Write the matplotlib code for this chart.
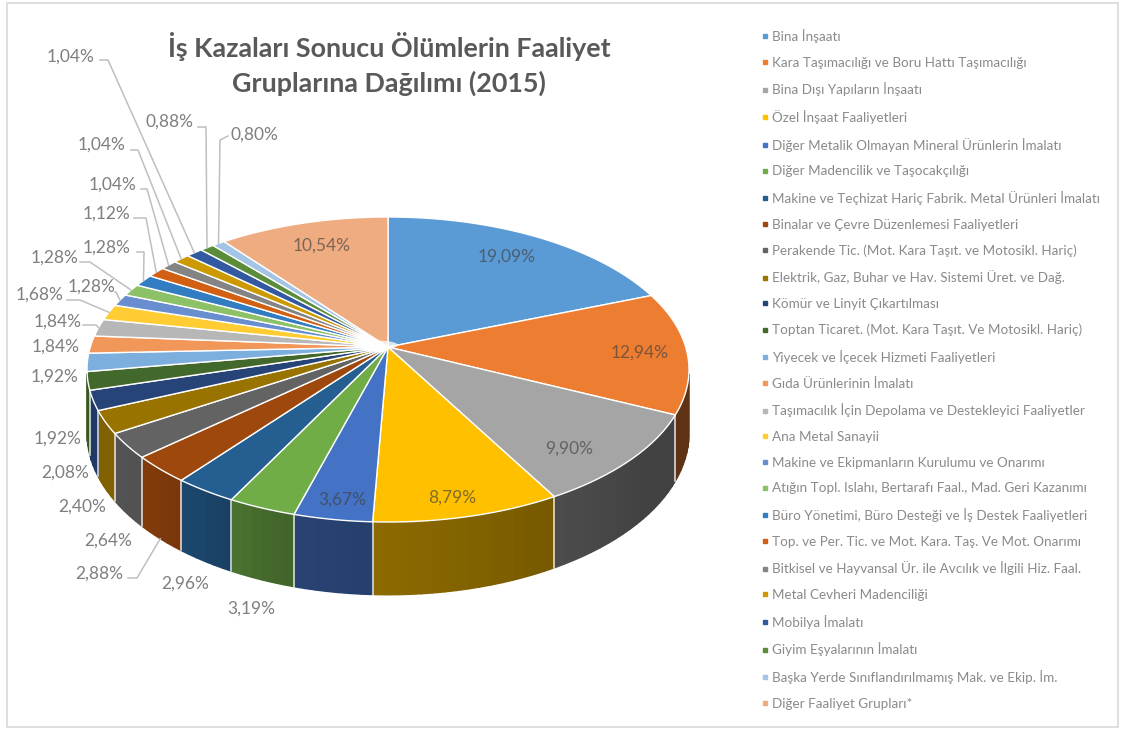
import numpy as np
import matplotlib
matplotlib.use('Agg')
import matplotlib.pyplot as plt
from matplotlib.lines import Line2D
from matplotlib.patches import Rectangle, Ellipse
from matplotlib.colors import to_rgb

plt.rcParams['font.family'] = ['Lato', 'DejaVu Sans']

title = 'İş Kazaları Sonucu Ölümlerin Faaliyet\nGruplarına Dağılımı (2015)'

categories = [
    'Bina İnşaatı',
    'Kara Taşımacılığı ve Boru Hattı Taşımacılığı',
    'Bina Dışı Yapıların İnşaatı',
    'Özel İnşaat Faaliyetleri',
    'Diğer Metalik Olmayan Mineral Ürünlerin İmalatı',
    'Diğer Madencilik ve Taşocakçılığı',
    'Makine ve Teçhizat Hariç Fabrik. Metal Ürünleri İmalatı',
    'Binalar ve Çevre Düzenlemesi Faaliyetleri',
    'Perakende Tic. (Mot. Kara Taşıt. ve Motosikl. Hariç)',
    'Elektrik, Gaz, Buhar ve Hav. Sistemi Üret. ve Dağ.',
    'Kömür ve Linyit Çıkartılması',
    'Toptan Ticaret. (Mot. Kara Taşıt. Ve Motosikl. Hariç)',
    'Yiyecek ve İçecek Hizmeti Faaliyetleri',
    'Gıda Ürünlerinin İmalatı',
    'Taşımacılık İçin Depolama ve Destekleyici Faaliyetler',
    'Ana Metal Sanayii',
    'Makine ve Ekipmanların Kurulumu ve Onarımı',
    'Atığın Topl. Islahı, Bertarafı Faal., Mad. Geri Kazanımı',
    'Büro Yönetimi, Büro Desteği ve İş Destek Faaliyetleri',
    'Top. ve Per. Tic. ve Mot. Kara. Taş. Ve Mot. Onarımı',
    'Bitkisel ve Hayvansal Ür. ile Avcılık ve İlgili Hiz. Faal.',
    'Metal Cevheri Madenciliği',
    'Mobilya İmalatı',
    'Giyim Eşyalarının İmalatı',
    'Başka Yerde Sınıflandırılmamış Mak. ve Ekip. İm.',
    'Diğer Faaliyet Grupları*',
]

values = [19.09, 12.94, 9.90, 8.79, 3.67, 3.19, 2.96, 2.88, 2.64, 2.40, 2.08, 1.92, 1.92,
          1.84, 1.84, 1.68, 1.28, 1.28, 1.28, 1.12, 1.04, 1.04, 1.04, 0.88, 0.80, 10.54]

colors = ['#5B9BD5', '#ED7D31', '#A5A5A5', '#FFC000', '#4472C4', '#70AD47', '#255E91',
          '#9E480E', '#636363', '#997300', '#264478', '#43682B', '#7CAFDD', '#F1975A',
          '#B7B7B7', '#FFCD33', '#698ED0', '#8CC168', '#327DC2', '#D26012', '#848484',
          '#CC9A00', '#335AA1', '#5A8C39', '#A3C4E5', '#EFAC80']

# label centres in pixels
label_pos = [(507, 257), (640, 353), (569, 449), (452, 498), (342, 500), (251, 609),
             (185, 584), (99, 574), (108, 541), (82, 507), (65, 473), (58, 439), (55, 377),
             (56, 347), (58, 322), (40, 295), (92, 287), (55, 258), (107, 248), (107, 214),
             (113, 185), (102, 145), (71, 57), (169, 122), (254, 135), (322, 246)]

# leader lines: slice index -> (start, elbow)
leaders = {7: ((128, 578), (137, 578)), 14: ((83, 325), (96, 325)),
           15: ((67, 300), (80, 300)), 16: ((115, 292), (116, 292)),
           17: ((80, 262), (90, 262)), 18: ((137, 252), (144, 252)),
           19: ((134, 218), (146, 218)), 20: ((141, 189), (147, 189)),
           21: ((131, 150), (138, 150)), 22: ((100, 60), (108, 60)),
           23: ((198, 127), (206, 127)), 24: ((228, 136), (220, 140))}

# perspective of the tilted disc, in pixels
cx, cy = 388, 347
rad_x, rad_y, persp, depth = 297.7, 149.2, 0.1475, 62


def project(theta, z=0.0):
    w = 1 + persp * np.cos(theta)
    return cx + rad_x * np.sin(theta) / w, cy - rad_y * np.cos(theta) / w + depth * z / w


def wall_shade(theta):
    return np.interp(np.degrees(theta), [100, 130, 180, 200, 212, 228, 260],
                     [0.40, 0.40, 0.55, 0.60, 0.72, 0.83, 0.85])


fig = plt.figure(figsize=(11.31, 7.31), dpi=100)
ax = fig.add_axes([0, 0, 1, 1])
ax.set_xlim(0, 1131)
ax.set_ylim(731, 0)
ax.axis('off')

ax.add_patch(Rectangle((7, 3), 1111, 724, fc='white', ec='#D9D9D9', lw=1.2))

edges = np.radians(np.cumsum([0] + values) * 360 / sum(values))

# side wall first, only the part that faces the viewer
wall_min, wall_max = np.radians(100), np.radians(260)
for i in range(len(values)):
    a0, a1 = max(edges[i], wall_min), min(edges[i + 1], wall_max)
    if a1 <= a0:
        continue
    steps = np.linspace(a0, a1, max(2, int(np.degrees(a1 - a0) / 2) + 2))
    for s0, s1 in zip(steps[:-1], steps[1:]):
        t = np.linspace(s0, s1, 4)
        xt, yt = project(t)
        xb, yb = project(t[::-1], 1)
        c = np.array(to_rgb(colors[i])) * wall_shade((s0 + s1) / 2)
        ax.fill(np.r_[xt, xb], np.r_[yt, yb], color=c, lw=1.0, zorder=2)
    if edges[i + 1] < wall_max and edges[i + 1] > wall_min:
        xs, ys = project(np.array([edges[i + 1]] * 2), np.array([0, 1]))
        ax.plot(xs, ys, color='white', lw=1.2, alpha=0.8, zorder=3)

# top face
for i in range(len(values)):
    t = np.linspace(edges[i], edges[i + 1], 60)
    xs, ys = project(t)
    ax.fill(np.r_[cx, xs], np.r_[cy, ys], fc=colors[i], ec='white', lw=1.0, zorder=4,
            joinstyle='round')

# the slice borders run together into a white patch near the apex
ax.add_patch(Ellipse((cx - 12, cy - 2), 44, 9, fc='white', ec='none', alpha=0.75, zorder=4.5))

# leader lines
for i, (start, elbow) in leaders.items():
    mid = (edges[i] + edges[i + 1]) / 2
    rx, ry = project(mid, 1 if i == 7 else 0)
    ax.plot([start[0], elbow[0], rx], [start[1], elbow[1], ry], color='#BFBFBF', lw=1.1,
            zorder=5, solid_joinstyle='round')

# value labels
for i, (v, pos) in enumerate(zip(values, label_pos)):
    text = f'{v:.2f}%'.replace('.', ',')
    inside = i <= 4 or i == len(values) - 1
    ax.text(pos[0], pos[1], text, ha='center', va='center', fontsize=12.5, zorder=6,
            color='#404040' if inside else '#7F7F7F', alpha=0.65 if inside else 1)

ax.text(389, 64, title, ha='center', va='center', fontsize=19.4, color='#595959',
        fontweight='bold', linespacing=1.43, zorder=6)

handles = [Line2D([], [], ls='none', marker='s', ms=2.6, color=c) for c in colors]
leg = ax.legend(handles, categories, loc='upper left', bbox_to_anchor=(763 / 1131, 1 - 29 / 731),
                bbox_transform=fig.transFigure, frameon=False, fontsize=9.75, labelcolor='#8A8A8A',
                handlelength=0.3, handletextpad=0.4, labelspacing=1.009, borderpad=0, borderaxespad=0)

plt.savefig('out.png', dpi=100)
